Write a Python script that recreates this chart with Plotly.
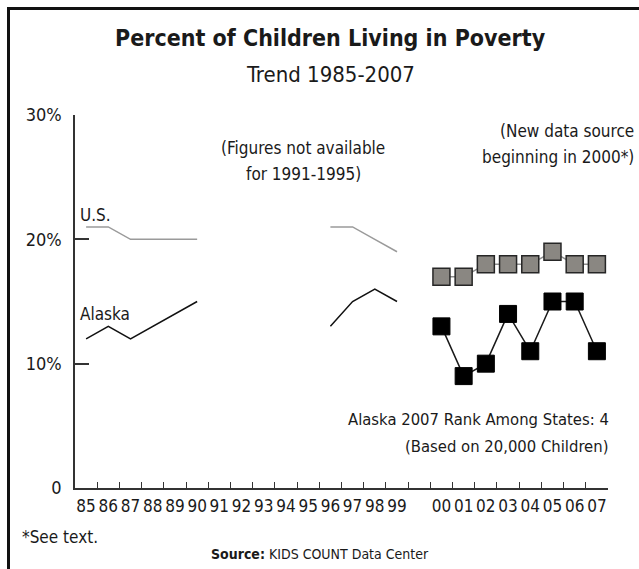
import plotly.graph_objects as go

# ---- data ----
years_old = ["85", "86", "87", "88", "89", "90", "91", "92", "93", "94",
             "95", "96", "97", "98", "99"]
us_old = [21, 21, 20, 20, 20, 20, None, None, None, None, None, 21, 21, 20, 19]
ak_old = [12, 13, 12, 13, 14, 15, None, None, None, None, None, 13, 15, 16, 15]

years_new = ["00", "01", "02", "03", "04", "05", "06", "07"]
us_new = [17, 17, 18, 18, 18, 19, 18, 18]
ak_new = [13, 9, 10, 14, 11, 15, 15, 11]

gap_label = [" "]
category_order = years_old + gap_label + years_new

y_tick_vals = [0, 10, 20, 30]
y_tick_text = ["0", "10%", "20%", "30%"]

# ---- layout geometry ----
W, H = 639, 569
L, R, T, B = 75, 608, 115, 488

FONT = "DejaVu Sans Condensed, Liberation Sans Narrow, Roboto, sans-serif"
TXT = "#1a1a1a"


def px(x):
    return (x - L) / (R - L)


def py(y):
    return (B - y) / (B - T)


fig = go.Figure()

fig.add_trace(go.Scatter(x=years_old, y=us_old, mode="lines",
                         line=dict(color="#9a9a9a", width=1.5),
                         connectgaps=False, showlegend=False, hoverinfo="skip"))
fig.add_trace(go.Scatter(x=years_old, y=ak_old, mode="lines",
                         line=dict(color="#111111", width=1.5),
                         connectgaps=False, showlegend=False, hoverinfo="skip"))
fig.add_trace(go.Scatter(x=years_new, y=us_new, mode="lines+markers",
                         line=dict(color="#8f8f8f", width=1.5),
                         marker=dict(symbol="square", size=17, color="#8a8782",
                                     line=dict(color="#262626", width=1.5)),
                         showlegend=False, hoverinfo="skip"))
fig.add_trace(go.Scatter(x=years_new, y=ak_new, mode="lines+markers",
                         line=dict(color="#1a1a1a", width=1.5),
                         marker=dict(symbol="square", size=17, color="#000000",
                                     line=dict(color="#000000", width=1)),
                         showlegend=False, hoverinfo="skip"))

ann = []


def add_text(text, x, y, size, xanchor="center", bold=False, yanchor="middle"):
    ann.append(dict(text=("<b>%s</b>" % text) if bold else text,
                    x=px(x), y=py(y), xref="paper", yref="paper",
                    xanchor=xanchor, yanchor=yanchor, showarrow=False,
                    font=dict(family=FONT, size=size, color=TXT)))


add_text("Percent of Children Living in Poverty", 330, 38, 23, bold=True)
add_text("Trend 1985-2007", 330, 75, 22)
add_text("U.S.", 78, 215, 17, xanchor="left")
add_text("Alaska", 78, 314, 17, xanchor="left")
add_text("(Figures not available", 303, 148, 17)
add_text("for 1991-1995)", 303, 174, 17)
add_text("(New data source", 636, 131, 17, xanchor="right")
add_text("beginning in 2000*)", 636, 157, 17, xanchor="right")
add_text("Alaska 2007 Rank Among States: 4", 611, 419, 16.5, xanchor="right")
add_text("(Based on 20,000 Children)", 610, 446, 16.5, xanchor="right")
add_text("*See text.", 20, 537, 17, xanchor="left")
add_text("<b>Source:</b> KIDS COUNT Data Center", 320, 554, 14)

shapes = [
    dict(type="line", xref="paper", yref="paper",
         x0=px(8.5), x1=px(8.5), y0=py(7), y1=py(575),
         line=dict(color="#111111", width=3)),
    dict(type="line", xref="paper", yref="paper",
         x0=px(7), x1=px(645), y0=py(8.5), y1=py(8.5),
         line=dict(color="#111111", width=3)),
]

fig.update_layout(
    width=W, height=H,
    margin=dict(l=L, r=W - R, t=T, b=H - B, pad=0),
    paper_bgcolor="white", plot_bgcolor="white",
    font=dict(family=FONT, color=TXT),
    annotations=ann, shapes=shapes, showlegend=False,
    xaxis=dict(type="category", categoryorder="array", categoryarray=category_order,
               range=[-0.5, len(category_order) - 0.5],
               tickmode="array", tickvals=category_order, ticktext=category_order,
               tickson="boundaries", ticks="inside", ticklen=6, tickwidth=1.2,
               tickcolor="#333333", showline=True, linecolor="#333333", linewidth=1.5,
               showgrid=False, zeroline=False, fixedrange=True,
               tickfont=dict(family=FONT, size=17, color=TXT), tickangle=0,
               ticklabelstandoff=2),
    yaxis=dict(range=[0, 30], tickvals=y_tick_vals, ticktext=y_tick_text,
               ticks="inside", ticklen=14, tickwidth=1.5, tickcolor="#333333",
               showline=True, linecolor="#333333", linewidth=1.5,
               showgrid=False, zeroline=False, fixedrange=True,
               tickfont=dict(family=FONT, size=18, color=TXT),
               ticklabelstandoff=8),
)

fig.write_html("out.html", config={"displayModeBar": False},
               post_script="document.body.style.margin='0px';document.body.style.overflow='hidden';")
